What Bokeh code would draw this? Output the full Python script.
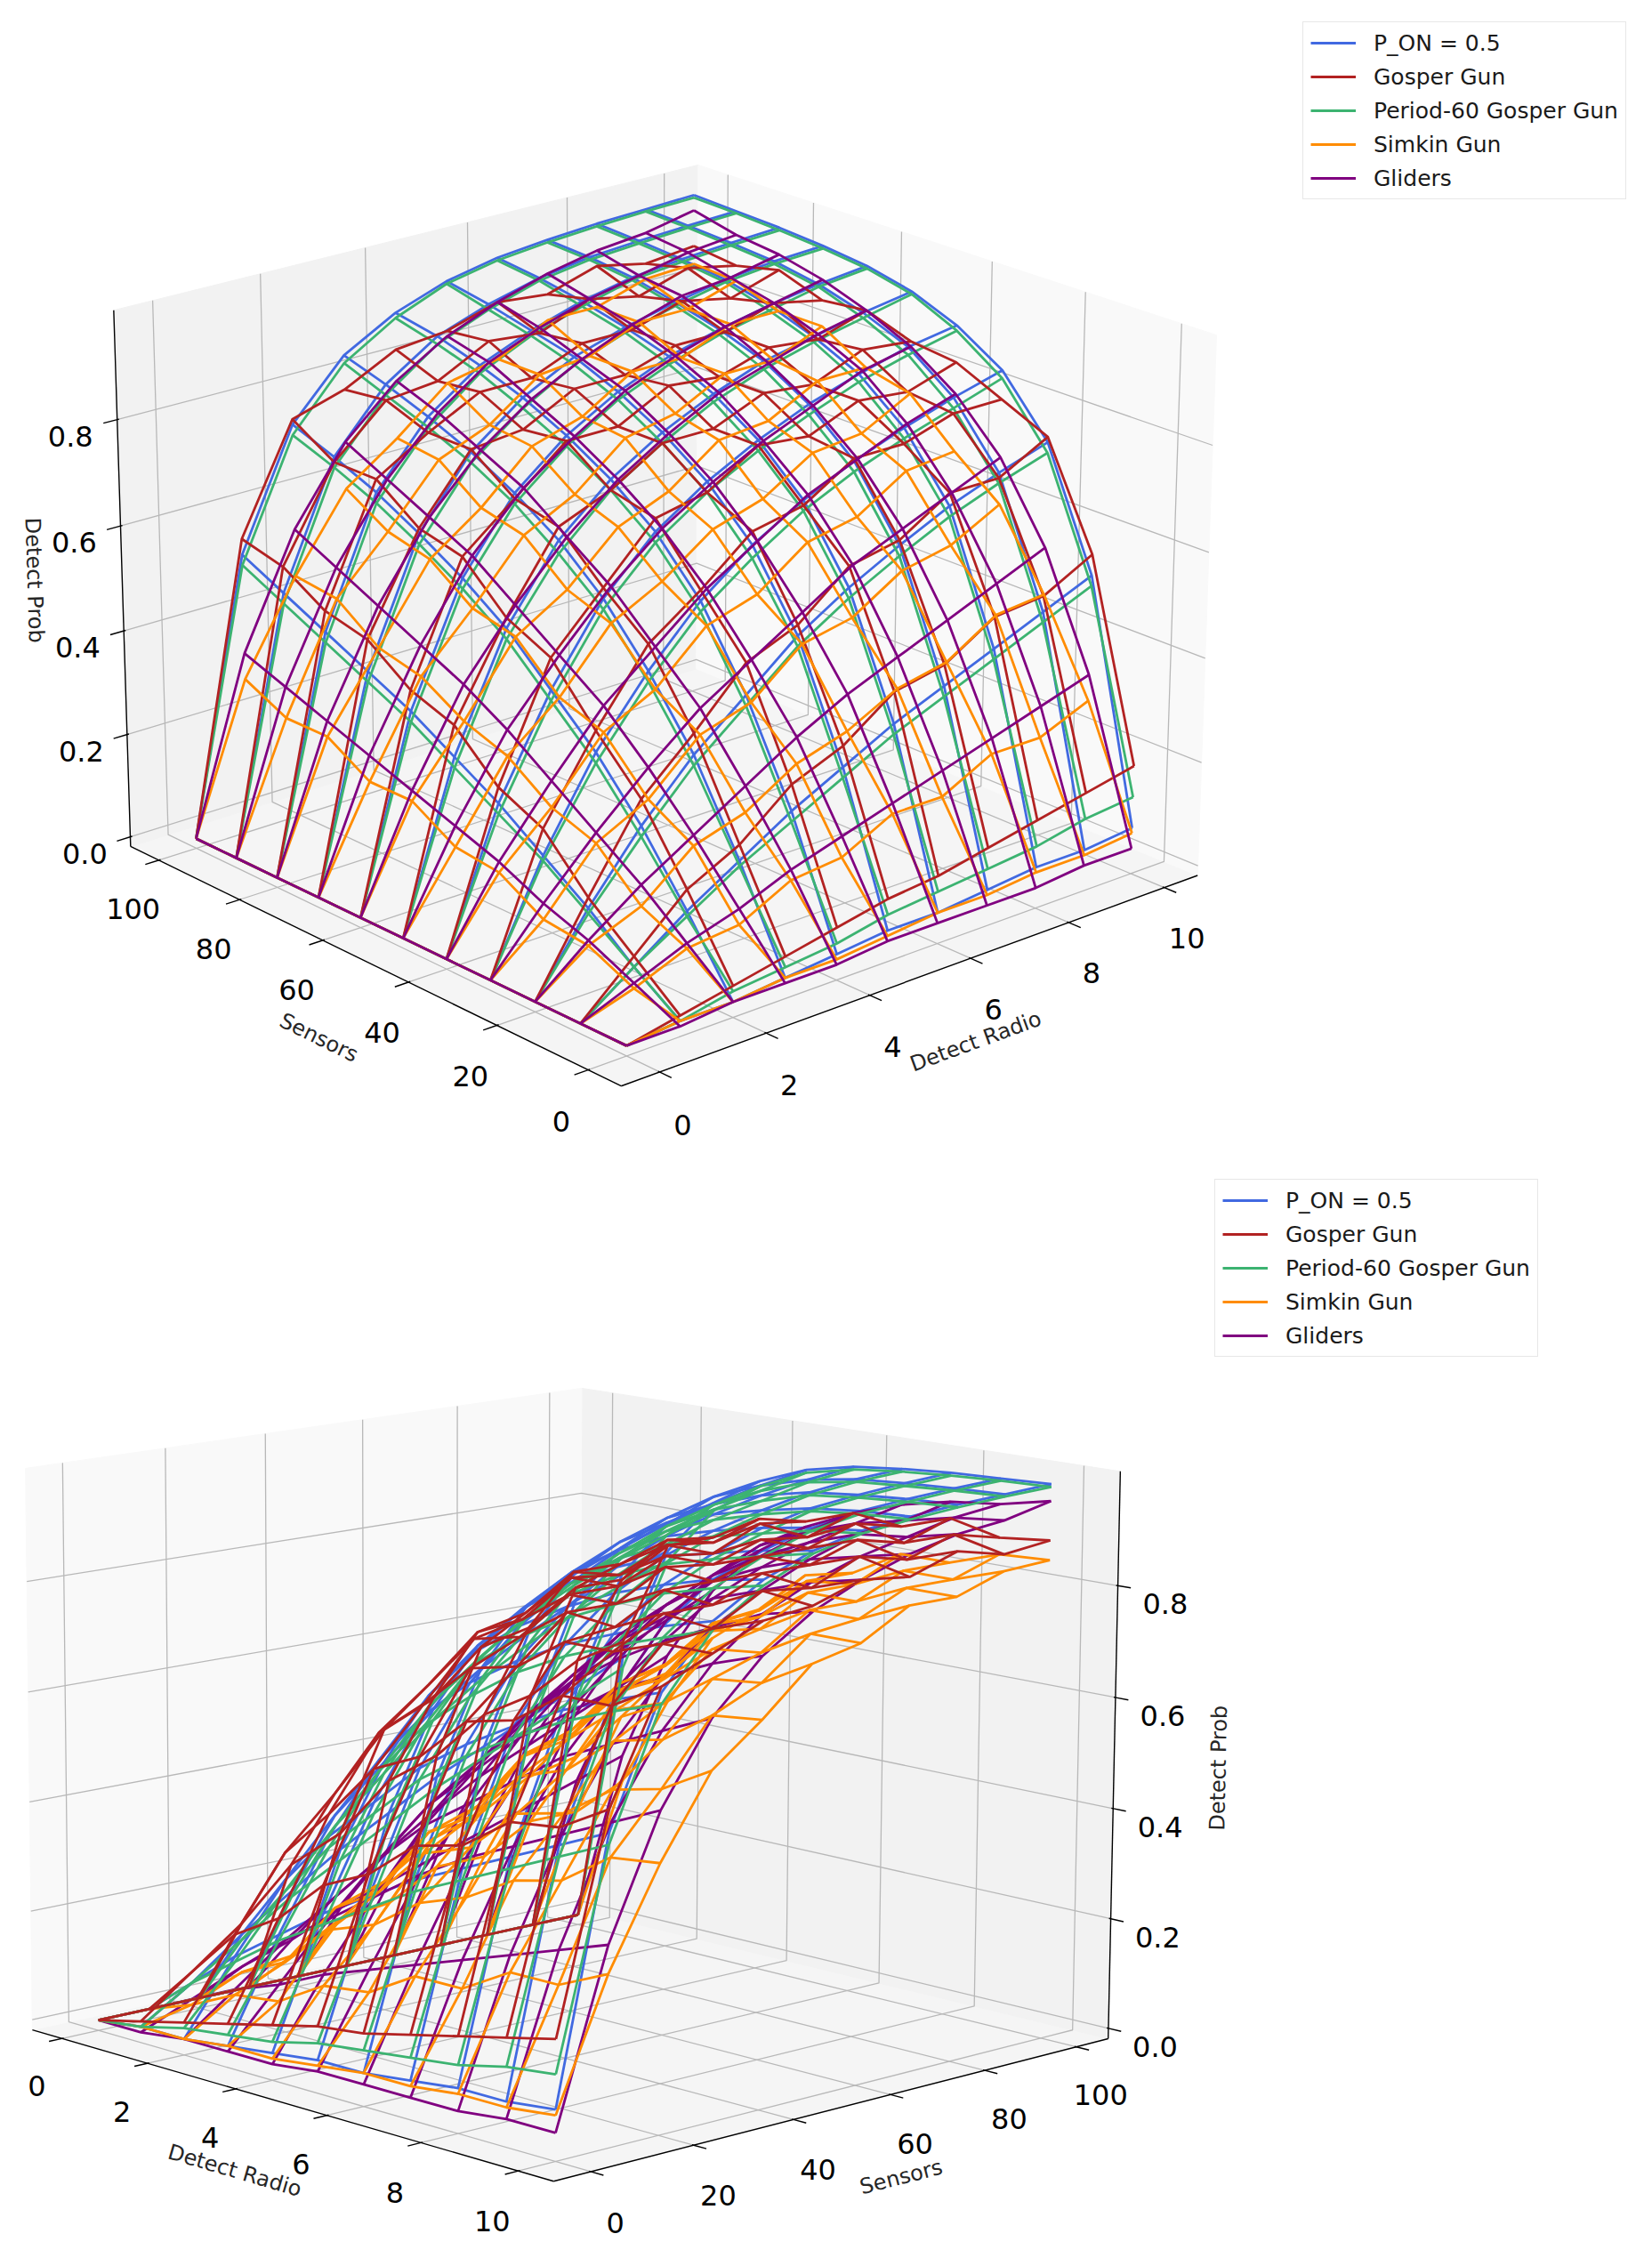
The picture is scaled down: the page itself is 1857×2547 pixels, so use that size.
import numpy as np
from bokeh.plotting import figure
from bokeh.models import Range1d, Legend, LegendItem
from bokeh.embed import file_html
from bokeh.resources import INLINE
from bokeh.core.properties import value

# ---------------- data (rows: sensors, columns: detect radio) ----------------
sensors = [0, 10, 20, 30, 40, 50, 60, 70, 80, 90, 100]
detect_radio = [0, 1, 2, 3, 4, 5, 6, 7, 8, 9, 10]
prob_ticks = [0.0, 0.2, 0.4, 0.6, 0.8]
prob_tick_labels = ["0.0", "0.2", "0.4", "0.6", "0.8"]
radio_ticks = [0, 2, 4, 6, 8, 10]
radio_tick_labels = ["0", "2", "4", "6", "8", "10"]
sensor_ticks = [0, 20, 40, 60, 80, 100]
sensor_tick_labels = ["0", "20", "40", "60", "80", "100"]

series_names = ["P_ON = 0.5", "Gosper Gun", "Period-60 Gosper Gun", "Simkin Gun", "Gliders"]
series_colors = ["#4169E1", "#B22222", "#3CB371", "#FF8C00", "#800080"]

p_on = [
    [0, .01, .01, .02, .03, .04, .04, .05, .06, .06, .07],
    [0, .07, .14, .20, .26, .31, .36, .40, .44, .48, .52],
    [0, .14, .26, .36, .44, .52, .58, .63, .675, .71, .74],
    [0, .20, .36, .48, .58, .655, .71, .755, .79, .82, .845],
    [0, .26, .44, .58, .675, .74, .79, .83, .86, .885, .90],
    [0, .31, .52, .655, .74, .80, .845, .88, .90, .92, .935],
    [0, .36, .58, .71, .79, .845, .885, .91, .93, .945, .955],
    [0, .40, .63, .755, .83, .88, .91, .932, .95, .96, .965],
    [0, .44, .675, .79, .86, .90, .93, .95, .96, .967, .972],
    [0, .48, .71, .82, .885, .92, .945, .96, .967, .972, .976],
    [0, .52, .74, .845, .90, .935, .955, .965, .972, .976, .98],
]
gosper = [
    [0, .02, .04, .06, .08, .10, .11, .13, .15, .17, .19],
    [0, .09, .18, .23, .31, .35, .42, .44, .50, .51, .56],
    [0, .16, .31, .40, .50, .54, .62, .64, .70, .70, .75],
    [0, .25, .40, .53, .60, .68, .70, .76, .76, .79, .79],
    [0, .29, .50, .60, .70, .72, .78, .77, .81, .80, .83],
    [0, .37, .54, .68, .72, .78, .78, .82, .81, .85, .84],
    [0, .40, .62, .70, .78, .78, .83, .82, .85, .84, .87],
    [0, .46, .64, .76, .77, .82, .82, .85, .85, .88, .86],
    [0, .48, .70, .76, .81, .81, .85, .85, .88, .86, .89],
    [0, .53, .70, .79, .80, .85, .84, .88, .86, .89, .87],
    [0, .55, .75, .78, .83, .84, .87, .86, .89, .87, .88],
]
period60 = [
    [0, .01, .03, .04, .05, .07, .08, .09, .10, .12, .13],
    [0, .07, .13, .19, .24, .29, .34, .38, .42, .46, .50],
    [0, .13, .24, .34, .42, .50, .56, .61, .655, .69, .72],
    [0, .19, .34, .46, .56, .63, .69, .735, .77, .80, .83],
    [0, .24, .42, .56, .655, .72, .77, .81, .845, .87, .89],
    [0, .29, .50, .63, .72, .78, .83, .865, .89, .91, .93],
    [0, .34, .56, .69, .77, .83, .87, .90, .92, .94, .95],
    [0, .38, .61, .735, .81, .865, .90, .925, .945, .955, .96],
    [0, .42, .655, .77, .845, .89, .92, .945, .955, .962, .967],
    [0, .46, .69, .80, .87, .91, .94, .955, .962, .968, .972],
    [0, .50, .72, .83, .89, .93, .95, .96, .967, .972, .975],
]
simkin = [
    [0, .01, .01, .02, .02, .03, .04, .04, .05, .05, .06],
    [0, .03, .07, .08, .13, .14, .19, .19, .24, .24, .28],
    [0, .07, .11, .19, .22, .28, .31, .36, .38, .44, .45],
    [0, .08, .19, .24, .33, .36, .44, .46, .52, .54, .59],
    [0, .13, .22, .33, .38, .47, .50, .57, .59, .65, .66],
    [0, .14, .28, .36, .47, .52, .59, .62, .68, .69, .74],
    [0, .19, .31, .44, .50, .59, .63, .70, .71, .76, .76],
    [0, .19, .36, .46, .57, .62, .70, .72, .77, .77, .81],
    [0, .24, .38, .52, .59, .68, .71, .77, .77, .81, .81],
    [0, .24, .44, .54, .65, .69, .76, .77, .81, .81, .84],
    [0, .28, .45, .59, .66, .74, .76, .81, .81, .84, .845],
]
gliders = [
    [0, .00, .01, .01, .01, .02, .02, .02, .02, .03, .03],
    [0, .04, .08, .11, .15, .18, .21, .24, .27, .30, .33],
    [0, .08, .15, .21, .27, .33, .38, .42, .46, .50, .54],
    [0, .11, .21, .30, .38, .44, .50, .56, .60, .64, .68],
    [0, .15, .27, .38, .46, .54, .60, .66, .70, .74, .77],
    [0, .18, .33, .44, .54, .62, .68, .73, .77, .81, .83],
    [0, .21, .38, .50, .60, .68, .74, .79, .82, .85, .87],
    [0, .24, .42, .56, .66, .73, .79, .83, .86, .88, .90],
    [0, .27, .46, .60, .70, .77, .82, .86, .89, .90, .92],
    [0, .30, .50, .64, .74, .81, .85, .88, .90, .92, .93],
    [0, .33, .54, .68, .77, .83, .87, .90, .92, .93, .95],
]
series_values = [p_on, gosper, period60, simkin, gliders]

# ---------------- 3D axes limits (data units) ----------------
RADIO_LIM = (-0.71, 10.71)
SENSOR_LIM = (-7.1, 107.1)
PROB_LIM = (-0.019, 1.003)
rl, rh = RADIO_LIM
sl, sh = SENSOR_LIM
zl, zh = PROB_LIM

# camera calibration: box corners / axis points -> page pixel
TOP_VIEW = [
    ((rl, sl, zl), (704.6, 1228.8)),
    ((rh, sl, zl), (1355.0, 992.0)),
    ((rl, sh, zl), (154.7, 959.8)),
    ((rl, sh, zh), (135.1, 355.8)),
    ((rh, sh, zh), (790.7, 192.8)),
    ((rh, sl, zh), (1376.0, 386.0)),
    ((rl, sh, 0.8), (140.4, 477.7)),
    ((rl, sh, 0.0), (152.5, 949.6)),
    ((0, 0, 0), (711.0, 1182.0)),
    ((0, 100, 0), (230.0, 950.0)),
    ((10, 0, 0.03), (1278.6, 959.0)),
]
BOTTOM_VIEW = [
    ((rl, sl, zl), (44.0, 2290.7)),
    ((rh, sl, zl), (629.0, 2460.4)),
    ((rh, sh, zl), (1256.0, 2299.0)),
    ((rl, sl, zh), (34.0, 1657.0)),
    ((rl, sh, zh), (665.0, 1568.0)),
    ((rh, sh, zh), (1266.6, 1662.9)),
    ((rh, sh, 0.8), (1261.7, 1789.2)),
    ((rh, sh, 0.4), (1259.7, 2039.9)),
    ((0, 0, 0), (121.7, 2278.0)),
    ((10, 0, 0.03), (631.3, 2403.0)),
    ((rl, sh, zl), (654.0, 2154.0)),
]


def fit_camera(view):
    w = np.array([[a[0] / 10.0, a[1] / 100.0, a[2]] for a, _ in view], float)
    im = np.array([b for _, b in view], float)
    mi = im.mean(0)
    si = np.sqrt(2) / np.mean(np.linalg.norm(im - mi, axis=1))
    T = np.array([[si, 0, -si * mi[0]], [0, si, -si * mi[1]], [0, 0, 1.0]])
    mw = w.mean(0)
    sw = np.sqrt(3) / np.mean(np.linalg.norm(w - mw, axis=1))
    U = np.eye(4) * sw
    U[3, 3] = 1.0
    U[:3, 3] = -sw * mw
    wh = (U @ np.c_[w, np.ones(len(w))].T).T
    ih = (T @ np.c_[im, np.ones(len(im))].T).T
    rows = []
    for (X, Y, Z, _), (u, v, _) in zip(wh, ih):
        rows.append([X, Y, Z, 1, 0, 0, 0, 0, -u * X, -u * Y, -u * Z, -u])
        rows.append([0, 0, 0, 0, X, Y, Z, 1, -v * X, -v * Y, -v * Z, -v])
    _, _, vt = np.linalg.svd(np.array(rows))
    Pn = vt[-1].reshape(3, 4)
    return np.linalg.inv(T) @ Pn @ U


def project(P, R, S, Z):
    R = np.atleast_1d(np.asarray(R, float)) / 10.0
    S = np.atleast_1d(np.asarray(S, float)) / 100.0
    Z = np.atleast_1d(np.asarray(Z, float))
    R, S, Z = np.broadcast_arrays(R, S, Z)
    h = P @ np.vstack([R.ravel(), S.ravel(), Z.ravel(), np.ones(R.size)])
    return h[0] / h[2], h[1] / h[2]


def poly(P, pts):
    a = np.array(pts, float)
    x, y = project(P, a[:, 0], a[:, 1], a[:, 2])
    return list(x), list(y)


def text_angle(x1, y1, x2, y2):
    a = np.degrees(np.arctan2(-(y2 - y1), x2 - x1))
    a = (a + 180.0) % 180.0
    if a > 90:
        a -= 180.0
    return float(np.radians(a))


FONT = "DejaVu Sans"
W, H = 1841, 2531
p = figure(width=W, height=H, x_range=Range1d(8, 8 + W), y_range=Range1d(8 + H, 8),
           output_backend="svg", toolbar_location=None, min_border=0)
p.xaxis.visible = False
p.yaxis.visible = False
p.xgrid.visible = False
p.ygrid.visible = False
p.outline_line_color = None
p.background_fill_color = "white"


def draw_chart(P, near_r, rsign, order, legend_loc, label_shift):
    far_r = rh if near_r == rl else rl
    Rr, Sr, Zr = rh - rl, sh - sl, zh - zl
    # panes
    panes = [
        ([(rl, sl, zl), (rh, sl, zl), (rh, sh, zl), (rl, sh, zl)], "#f5f5f5"),
        ([(rl, sh, zl), (rh, sh, zl), (rh, sh, zh), (rl, sh, zh)], "#f2f2f2"),
        ([(far_r, sl, zl), (far_r, sh, zl), (far_r, sh, zh), (far_r, sl, zh)], "#f9f9f9"),
    ]
    pxs, pys, pcs = [], [], []
    for pts, c in panes:
        x, y = poly(P, pts)
        pxs.append(x); pys.append(y); pcs.append(c)
    p.patches(pxs, pys, fill_color=pcs, line_color=pcs, line_width=1)

    # grid lines
    gx, gy = [], []
    for t in radio_ticks:
        x, y = poly(P, [(t, sl, zl), (t, sh, zl), (t, sh, zh)])
        gx.append(x); gy.append(y)
    for t in sensor_ticks:
        x, y = poly(P, [(near_r, t, zl), (far_r, t, zl), (far_r, t, zh)])
        gx.append(x); gy.append(y)
    for t in prob_ticks:
        x, y = poly(P, [(near_r, sh, t), (far_r, sh, t), (far_r, sl, t)])
        gx.append(x); gy.append(y)
    p.multi_line(gx, gy, line_color="#b8b8b8", line_width=1.3)

    # axis lines
    ax_edges = {
        "r": [(rl, sl, zl), (rh, sl, zl)],
        "s": [(near_r, sl, zl), (near_r, sh, zl)],
        "z": [(near_r, sh, zl), (near_r, sh, zh)],
    }
    axx, axy = [], []
    for k in ("r", "s", "z"):
        x, y = poly(P, ax_edges[k])
        axx.append(x); axy.append(y)
    # tick marks
    din, dout = 0.003, 0.022
    for t in radio_ticks:
        x, y = poly(P, [(t, sl + din * Sr, zl), (t, sl - dout * Sr, zl)])
        axx.append(x); axy.append(y)
    for t in sensor_ticks:
        x, y = poly(P, [(near_r - rsign * din * Rr, t, zl), (near_r + rsign * dout * Rr, t, zl)])
        axx.append(x); axy.append(y)
    for t in prob_ticks:
        x, y = poly(P, [(near_r - rsign * din * Rr, sh, t), (near_r + rsign * dout * Rr, sh, t)])
        axx.append(x); axy.append(y)
    p.multi_line(axx, axy, line_color="black", line_width=1.4)

    # tick labels
    f = 0.043
    nudge = 20.0
    tx, ty, tt = [], [], []
    for t, lab in zip(radio_ticks, radio_tick_labels):
        x, y = project(P, t, sl - f * Sr, zl - f * Zr)
        tx.append(x[0]); ty.append(y[0] + nudge); tt.append(lab)
    for t, lab in zip(sensor_ticks, sensor_tick_labels):
        x, y = project(P, near_r + rsign * f * Rr, t, zl - f * Zr)
        tx.append(x[0]); ty.append(y[0] + nudge); tt.append(lab)
    for t, lab in zip(prob_ticks, prob_tick_labels):
        x, y = project(P, near_r + rsign * f * Rr, sh + f * Sr, t)
        tx.append(x[0]); ty.append(y[0] + nudge); tt.append(lab)
    p.text(tx, ty, text=tt, text_font=value(FONT), text_font_size=value("32px"),
           text_align="center", text_baseline="middle", text_color="black")

    # axis labels
    f2 = 0.095
    lx, ly, lt, la = [], [], [], []
    for k, lab, pos in (
        ("r", "Detect Radio", ((rl + rh) / 2, sl - f2 * Sr, zl - f2 * Zr)),
        ("s", "Sensors", (near_r + rsign * f2 * Rr, (sl + sh) / 2, zl - f2 * Zr)),
        ("z", "Detect Prob", (near_r + rsign * f2 * Rr, sh + f2 * Sr, (zl + zh) / 2)),
    ):
        ex, ey = poly(P, ax_edges[k])
        x, y = project(P, *pos)
        dx, dy = label_shift[k]
        lx.append(x[0] + dx); ly.append(y[0] + dy); lt.append(lab)
        la.append(text_angle(ex[0], ey[0], ex[1], ey[1]))
    p.text(lx, ly, text=lt, angle=la, text_font=value(FONT), text_font_size=value("24px"),
           text_align="center", text_baseline="middle", text_color="#262626")

    # wireframes
    rends = {}
    for idx in order:
        Zv = np.array(series_values[idx], float)
        xs, ys = [], []
        for i, s in enumerate(sensors):
            x, y = project(P, detect_radio, s, Zv[i, :])
            xs.append(list(x)); ys.append(list(y))
        for j, r in enumerate(detect_radio):
            x, y = project(P, r, sensors, Zv[:, j])
            xs.append(list(x)); ys.append(list(y))
        rends[idx] = p.multi_line(xs, ys, line_color=series_colors[idx], line_width=2.8,
                                  line_join="round")
    items = [LegendItem(label=series_names[i], renderers=[rends[i]]) for i in range(5)]
    leg = Legend(items=items, location=legend_loc,
                 label_text_font=FONT, label_text_font_size="25px", label_text_color="#1a1a1a",
                 glyph_width=51, glyph_height=30, label_height=30, label_standoff=20,
                 spacing=8, padding=8, margin=0,
                 border_line_color="#d0d0d0", border_line_width=1.5,
                 background_fill_color="white", background_fill_alpha=0.85)
    p.add_layout(leg)


P_top = fit_camera(TOP_VIEW)
P_bot = fit_camera(BOTTOM_VIEW)
draw_chart(P_top, rl, -1, [0, 2, 1, 3, 4], (1472 - 8, 8 + H - 222 - 10),
           {"r": (5, -11), "s": (13, 6), "z": (16, 0)})
draw_chart(P_bot, rh, +1, [0, 4, 3, 2, 1], (1373 - 8, 8 + H - 1525 - 8),
           {"r": (12, 0), "s": (5, 0), "z": (0, 11)})

open("out.html", "w").write(file_html(p, INLINE))
